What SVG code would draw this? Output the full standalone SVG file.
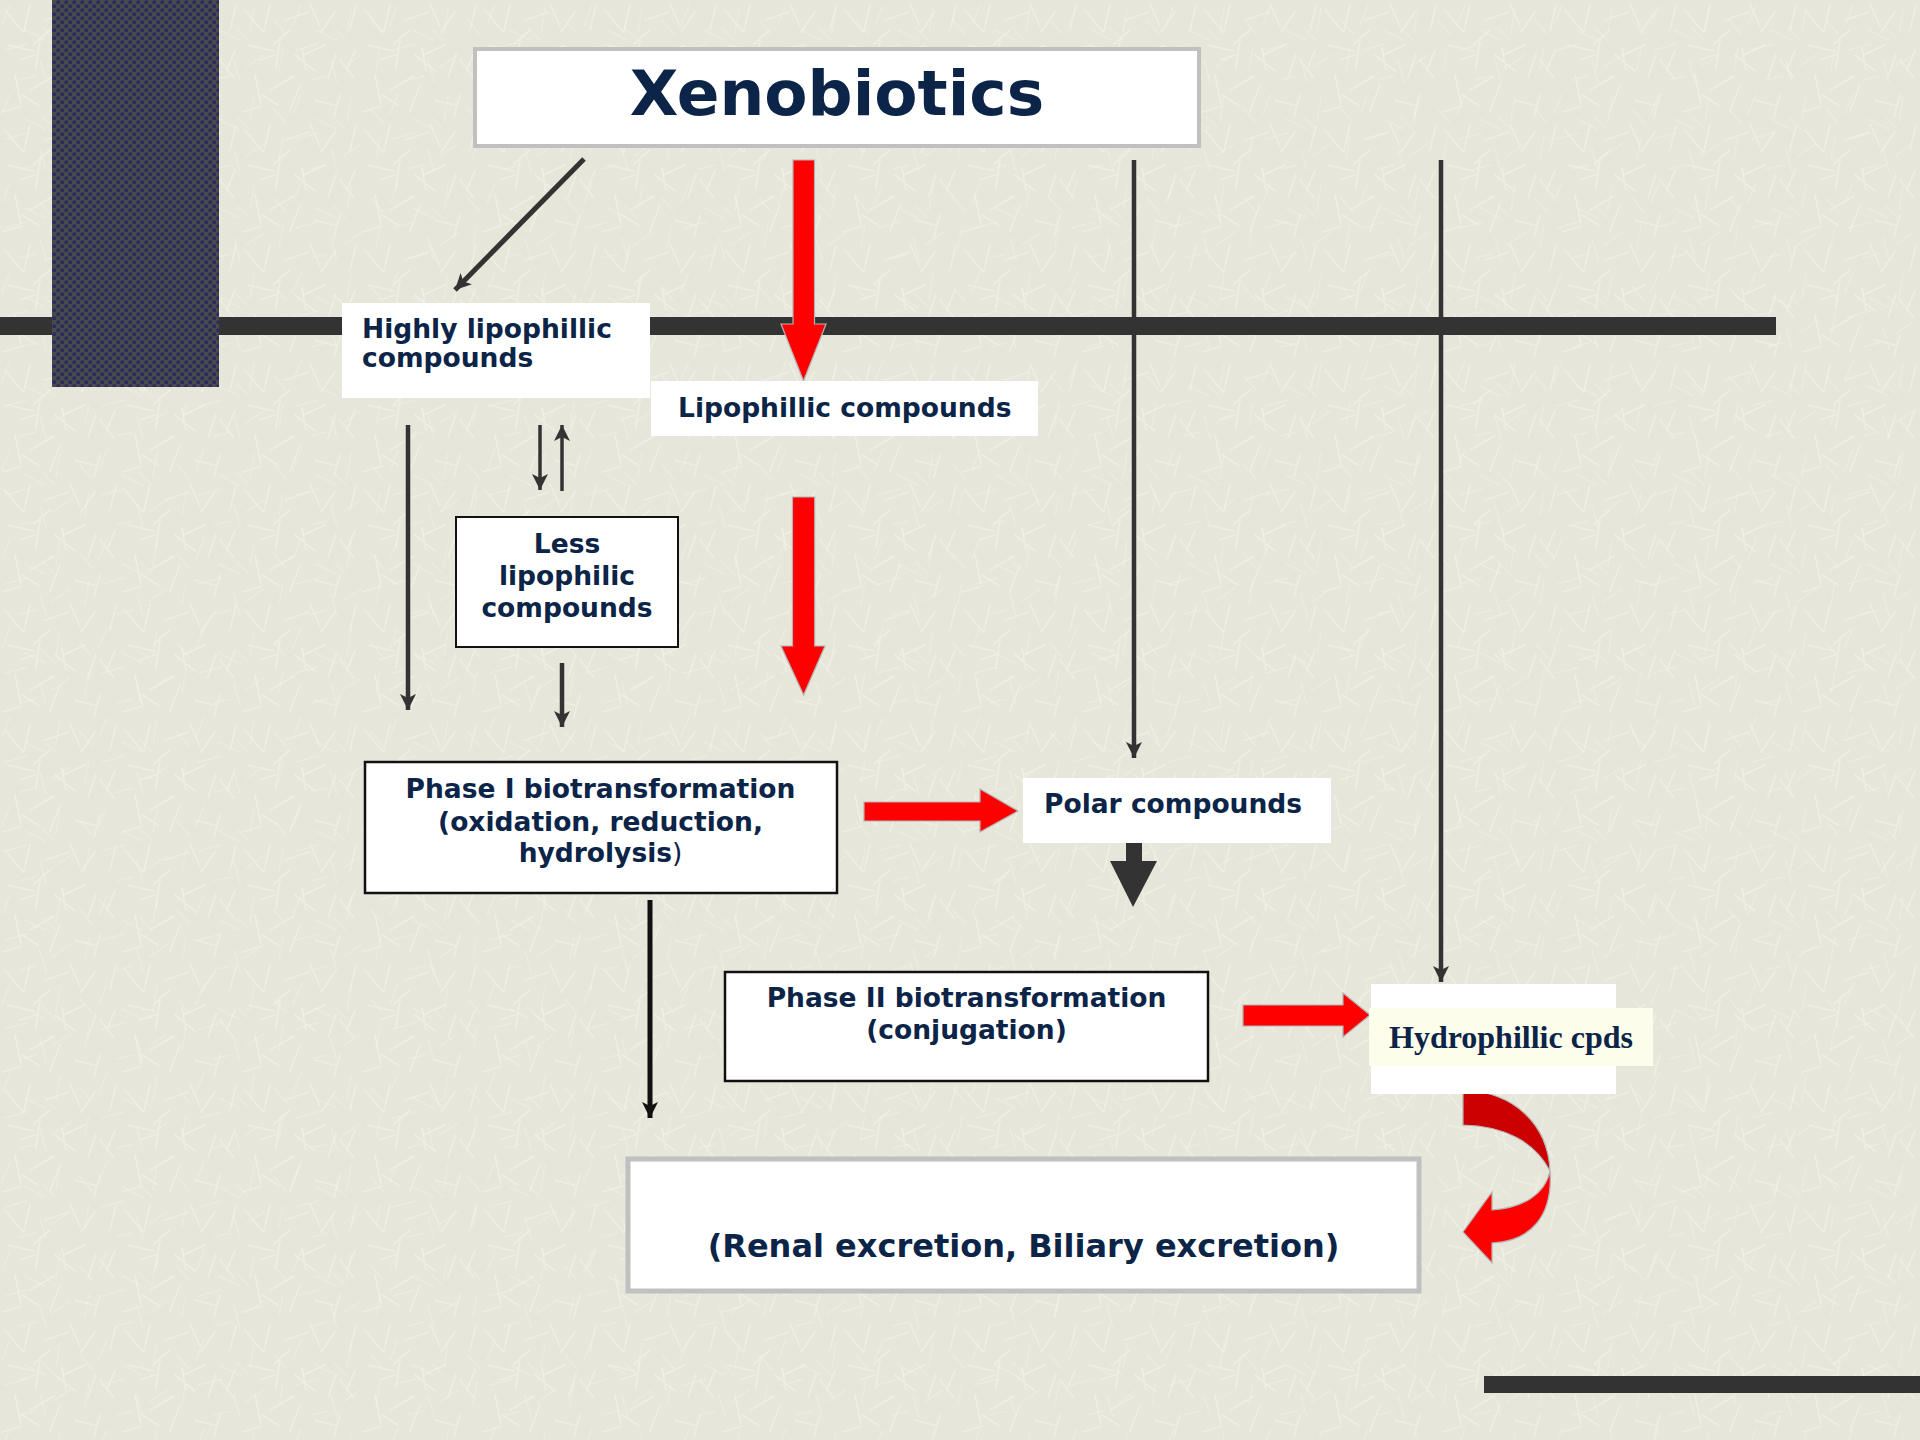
<svg xmlns="http://www.w3.org/2000/svg" width="1920" height="1440" viewBox="0 0 1920 1440">
<defs>
<style>
.t{font-family:"DejaVu Sans",Verdana,sans-serif;font-weight:bold;font-size:26.5px;fill:#0b2447}
.c{text-anchor:middle}
.ln{stroke:#333;fill:none}
.red{fill:#ff0000;stroke:#b4b4b4;stroke-width:1.2}
.box{fill:#fff}
.tx{stroke:#f3f3ea;stroke-linecap:round;fill:none}
</style>
<pattern id="bg" width="120" height="120" patternUnits="userSpaceOnUse">
<rect width="120" height="120" fill="#e6e6da"/>
<path class="tx" d="M5,10 l18,22 M30,5 l-6,26 M45,20 l24,-8 M70,4 l10,22 M95,12 l-14,20 M110,30 l6,-24 M8,45 l26,6 M40,40 l-4,28 M55,55 l20,16 M85,45 l-22,10 M100,60 l14,18 M15,75 l6,28 M30,90 l24,-14 M60,85 l-10,26 M75,100 l22,6 M100,95 l-6,22 M2,112 l20,-6 M50,30 l-16,14 M88,78 l8,-24 M20,60 l18,-6 M66,70 l-4,-22 M115,50 l-8,20 M38,105 l-16,-10" stroke-width="1.7" opacity="0.55"/>
</pattern>
<pattern id="bg2" width="97" height="89" patternUnits="userSpaceOnUse">
<path class="tx" d="M10,5 l-8,20 M25,30 l20,10 M60,8 l-4,24 M80,20 l12,14 M5,50 l22,-6 M40,60 l6,22 M70,55 l-18,12 M85,70 l4,-22 M20,80 l16,-4 M55,40 l-12,-12" stroke-width="1.4" opacity="0.45"/>
</pattern>
<pattern id="dots" width="8" height="8" patternUnits="userSpaceOnUse">
<rect width="8" height="8" fill="#4a4a4e"/>
<rect x="0.5" y="0.5" width="3.4" height="3.4" fill="#262a5c"/>
<rect x="4.5" y="4.5" width="3.4" height="3.4" fill="#262a5c"/>
</pattern>
<marker id="ah" markerUnits="userSpaceOnUse" markerWidth="16" markerHeight="16" refX="16" refY="8" orient="auto">
<path d="M0,0 L16,8 L0,16 L4,8 Z" fill="#333"/>
</marker>
<marker id="ahk" markerUnits="userSpaceOnUse" markerWidth="16" markerHeight="16" refX="16" refY="8" orient="auto">
<path d="M0,0 L16,8 L0,16 L4,8 Z" fill="#111"/>
</marker>
</defs>

<rect width="1920" height="1440" fill="url(#bg)"/>
<rect width="1920" height="1440" fill="url(#bg2)"/>

<g id="decor">
<rect x="0" y="317" width="1776" height="18" fill="#333"/>
<rect x="52" y="0" width="167" height="387" fill="url(#dots)"/>
<rect x="1484" y="1376" width="436" height="17" fill="#333"/>
</g>

<g id="connectors">
<line class="ln" x1="584" y1="159" x2="455" y2="290" stroke-width="5" marker-end="url(#ah)"/>
<line class="ln" x1="1134" y1="160" x2="1134" y2="758" stroke-width="4.5" marker-end="url(#ah)"/>
<line class="ln" x1="1441" y1="160" x2="1441" y2="982" stroke-width="4.5" marker-end="url(#ah)"/>
<line class="ln" x1="408" y1="425" x2="408" y2="710" stroke-width="4.5" marker-end="url(#ah)"/>
<line class="ln" x1="540" y1="425" x2="540" y2="490" stroke-width="3.5" marker-end="url(#ah)"/>
<line class="ln" x1="562" y1="491" x2="562" y2="425" stroke-width="3.5" marker-end="url(#ah)"/>
<line class="ln" x1="562" y1="663" x2="562" y2="727" stroke-width="4.5" marker-end="url(#ah)"/>
<line x1="650" y1="900" x2="650" y2="1118" stroke="#111" stroke-width="5" marker-end="url(#ahk)"/>
<polygon class="red" points="793,160 814.5,160 814.5,324 826,324 803.5,381 781,324 793,324"/>
<polygon class="red" points="792.5,497 814.7,497 814.7,646 825,646 803.6,695 781,646 792.5,646"/>
<polygon class="red" points="864,802 980,802 980,789 1018,811 980,832 980,821 864,821"/>
<polygon class="red" points="1243,1005 1343,1005 1343,993 1370,1015 1343,1037 1343,1026 1243,1026"/>
<polygon points="1126,843 1142,843 1142,861 1157,861 1133,907 1110,861 1126,861" fill="#333"/>
<path d="M1463,1090 C1515,1092 1548,1125 1550,1171 C1535,1142 1505,1126 1463,1125 Z" fill="#cc0000" stroke="#b4b4b4" stroke-width="1.2"/>
<path d="M1550,1171 C1553,1215 1532,1241 1492,1243 L1492,1263 L1463,1232 L1492,1192 L1492,1210 C1522,1208 1545,1195 1550,1171 Z" fill="#ff0000" stroke="#b4b4b4" stroke-width="1.2"/>
</g>

<g id="xenobiotics">
<rect x="475" y="49" width="724" height="97" fill="#fff" stroke="#c0c0c0" stroke-width="4"/>
<text x="837" y="115" text-anchor="middle" style="font-family:'DejaVu Sans',Verdana,sans-serif;font-weight:bold;font-size:63px;fill:#0b2447">Xenobiotics</text>
</g>

<g id="highly">
<rect class="box" x="342" y="303" width="308" height="95"/>
<text class="t" x="362" y="338">Highly lipophillic</text>
<text class="t" x="362" y="367">compounds</text>
</g>

<g id="lipophillic">
<rect class="box" x="651" y="381" width="387" height="55"/>
<text class="t" x="678" y="417">Lipophillic compounds</text>
</g>

<g id="less">
<rect x="456" y="517" width="222" height="130" fill="#fff" stroke="#111" stroke-width="2"/>
<text class="t c" x="567" y="553">Less</text>
<text class="t c" x="567" y="585">lipophilic</text>
<text class="t c" x="567" y="617">compounds</text>
</g>

<g id="phase1">
<rect x="365" y="762" width="472" height="131" fill="#fff" stroke="#111" stroke-width="2.5"/>
<text class="t c" x="600.5" y="798">Phase I biotransformation</text>
<text class="t c" x="600.5" y="831">(oxidation, reduction,</text>
<text class="t c" x="600.5" y="862">hydrolysis<tspan style="font-weight:normal">)</tspan></text>
</g>

<g id="polar">
<rect class="box" x="1023" y="778" width="308" height="65"/>
<text class="t" x="1044" y="813">Polar compounds</text>
</g>

<g id="phase2">
<rect x="725" y="972" width="483" height="109" fill="#fff" stroke="#111" stroke-width="2.5"/>
<text class="t c" x="966.5" y="1007">Phase II biotransformation</text>
<text class="t c" x="966.5" y="1039">(conjugation)</text>
</g>

<g id="hydrophillic">
<rect class="box" x="1371" y="984" width="245" height="110"/>
<rect x="1369" y="1008" width="284" height="58" fill="#fdfdeb"/>
<text x="1389" y="1048" style="font-family:'Liberation Serif','Times New Roman',serif;font-weight:bold;font-size:32px;fill:#0b2447">Hydrophillic cpds</text>
</g>

<g id="excretion">
<rect x="628" y="1159" width="791" height="132" fill="#fff" stroke="#c0c0c0" stroke-width="5"/>
<text class="t c" x="1023.5" y="1257" style="font-size:32px">(Renal excretion, Biliary excretion)</text>
</g>
</svg>
